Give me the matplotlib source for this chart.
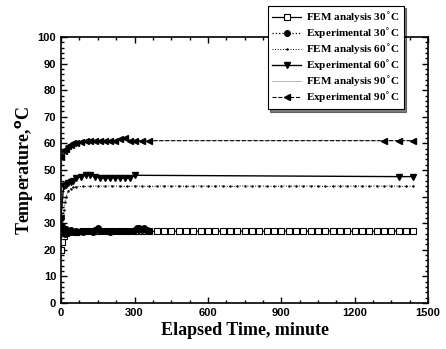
import numpy as np
from matplotlib import pyplot as plt
from matplotlib.ticker import MultipleLocator

# FEM analysis 30C
fem30_t = [0, 5, 10, 20, 30, 60, 90, 120, 150, 180, 210, 240, 270, 300, 330, 360, 390, 420, 450, 480,
           510, 540, 570, 600, 630, 660, 690, 720, 750, 780, 810, 840, 870, 900, 930, 960, 990,
           1020, 1050, 1080, 1110, 1140, 1170, 1200, 1230, 1260, 1290, 1320, 1350, 1380, 1410, 1440]
fem30_v = [20, 23, 25, 26.3, 26.6, 26.8, 26.9, 26.9, 27, 27, 27, 27, 27, 27, 27, 27, 26.9, 27, 27, 27,
           27, 27, 27, 27, 27, 27, 27.1, 27, 27, 27, 27, 27, 27, 27.1, 27, 27, 27,
           27, 27, 27, 27.1, 27, 27, 27, 27, 27, 27, 27, 27, 27.1, 27, 27]

# Experimental 30C
exp30_t = [0, 5, 10, 15, 20, 30, 40, 50, 60, 70, 80, 90, 100, 110, 120, 130, 140, 150, 160, 170,
           180, 190, 200, 210, 220, 230, 240, 250, 260, 270, 280, 290, 300, 310, 320, 330, 340, 350, 360]
exp30_v = [32, 29, 27.5, 26, 27.8, 26.5, 27.4, 26.6, 27.2, 26.8, 27.1, 26.7, 27.2, 26.9, 27, 26.8, 27.3, 28, 27.2, 26.9,
           27, 27.1, 26.8, 27, 27.1, 26.9, 27, 27.2, 27, 26.9, 27, 27.1, 27.3, 28, 28.2, 27.6, 28, 27.6, 27.2]

# FEM analysis 60C
fem60_t = [0, 5, 10, 15, 20, 30, 40, 50, 60, 90, 120, 150, 180, 210, 240, 270, 300, 330, 360, 390, 420,
           450, 480, 510, 540, 570, 600, 630, 660, 690, 720, 750, 780, 810, 840, 870, 900, 930, 960,
           990, 1020, 1050, 1080, 1110, 1140, 1170, 1200, 1230, 1260, 1290, 1320, 1350, 1380, 1410, 1440]
fem60_v = [25, 30, 35, 38, 40, 42, 43, 43.5, 43.7, 43.8, 43.9, 44, 43.9, 44, 43.9, 43.8, 44, 43.9, 43.8, 43.9, 44,
           43.9, 44, 43.8, 43.9, 44, 43.9, 43.9, 44, 43.8, 43.9, 44, 43.9, 44, 43.9, 43.8, 44, 43.9, 44,
           43.9, 44, 43.9, 43.8, 43.9, 44, 43.9, 44, 43.9, 43.9, 44, 43.9, 44, 43.9, 43.8, 43.9]

# Experimental 60C
exp60_t = [0, 10, 20, 30, 40, 50, 60, 80, 100, 120, 140, 160, 180, 200, 220, 240, 260, 280, 300, 1380, 1440]
exp60_v = [32, 44, 44.5, 45, 45.5, 46, 47, 47.5, 48, 48, 47.5, 47, 47, 47, 47, 47, 47, 47, 48, 47.5, 47.5]

# FEM analysis 90C
fem90_t = [0, 5, 10, 20, 30, 50, 80, 120, 200, 400, 800, 1200, 1440]
fem90_v = [50, 54, 56.5, 58.5, 59.5, 60.3, 60.7, 61, 61, 61, 61, 61, 61]

# Experimental 90C
exp90_t = [0, 10, 20, 30, 40, 50, 60, 80, 100, 120, 140, 160, 180, 200, 220, 240, 260, 280, 300, 330, 360,
           1320, 1380, 1440]
exp90_v = [55, 57, 58, 59, 59.5, 60, 60, 60.5, 61, 61, 61, 61, 61, 61, 61, 61.5, 62, 61, 61, 61, 61,
           61, 61, 61]

fig = plt.figure(figsize=(4.46, 3.49), dpi=100)
ax = fig.add_axes([0.137, 0.132, 0.823, 0.762])

ax.plot(fem30_t, fem30_v, '-', color='black', lw=0.9, marker='s', mfc='white', mec='black',
        ms=4, mew=0.8, label='FEM analysis 30$^{\\circ}$C', zorder=2)
ax.plot(exp30_t, exp30_v, ':', color='black', lw=0.9, marker='o', mfc='black', mec='black',
        ms=4, label='Experimental 30$^{\\circ}$C', zorder=3)
ax.plot(fem60_t, fem60_v, ':', color='black', lw=0.7, marker='.', ms=1.5,
        label='FEM analysis 60$^{\\circ}$C', zorder=2)
ax.plot(exp60_t, exp60_v, '-', color='black', lw=1.0, marker='v', mfc='black', mec='black',
        ms=5, label='Experimental 60$^{\\circ}$C', zorder=3)
ax.plot(fem90_t, fem90_v, '-', color='gray', lw=0.4,
        label='FEM analysis 90$^{\\circ}$C', zorder=2)
ax.plot(exp90_t, exp90_v, '--', color='black', lw=0.8, marker='<', mfc='black', mec='black',
        ms=4, label='Experimental 90$^{\\circ}$C', zorder=3)

ax.set_xlim(0, 1500)
ax.set_ylim(0, 100)
ax.xaxis.set_major_locator(MultipleLocator(300))
ax.xaxis.set_minor_locator(MultipleLocator(75))
ax.yaxis.set_major_locator(MultipleLocator(10))
ax.yaxis.set_minor_locator(MultipleLocator(2))
ax.tick_params(which='both', direction='in', top=True, right=True, width=1)
ax.tick_params(which='major', length=4)
ax.tick_params(which='minor', length=2)
for lab in ax.get_xticklabels() + ax.get_yticklabels():
    lab.set_fontweight('bold')
    lab.set_fontsize(8)
    lab.set_family('Liberation Sans')
for s in ax.spines.values():
    s.set_linewidth(1.2)

ax.set_xlabel('Elapsed Time, minute', family='Liberation Serif', fontweight='bold', fontsize=13, labelpad=3)
ax.set_ylabel('Temperature,$^{\\mathbf{o}}$C', family='Liberation Serif', fontweight='bold', fontsize=13, labelpad=2)

leg = ax.legend(loc='upper left', bbox_to_anchor=(0.601, 0.983), bbox_transform=fig.transFigure,
                frameon=True, fancybox=False, shadow={'ox': 1.5, 'oy': -1.5, 'shade': 1.0},
                edgecolor='black', handlelength=2.6, handletextpad=0.4, labelspacing=0.15,
                borderpad=0.4, borderaxespad=0,
                prop={'family': 'Liberation Serif', 'weight': 'bold', 'size': 8})
leg.get_frame().set_linewidth(0.8)
leg.set_zorder(10)

fig.savefig('out.png', dpi=100)
